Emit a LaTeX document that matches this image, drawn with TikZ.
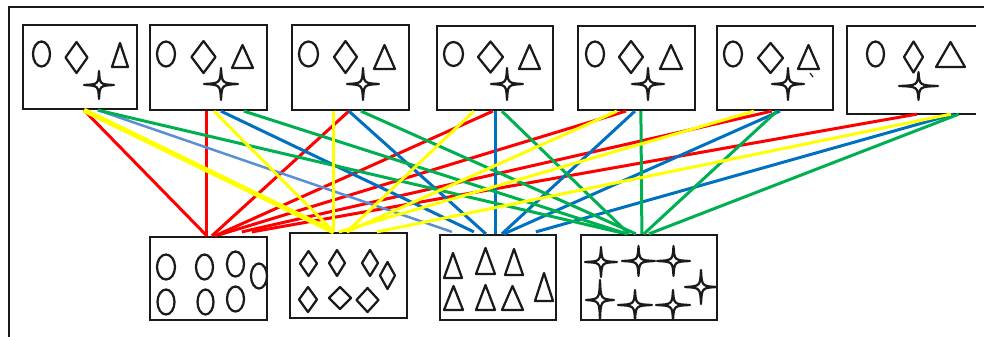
\documentclass[tikz,border=0pt]{standalone}
\usepackage{tikz}
\usetikzlibrary{calc}
\definecolor{ink}{HTML}{1A1A1A}
\definecolor{linkred}{HTML}{FF0000}
\definecolor{linkyellow}{HTML}{FFFF00}
\definecolor{linkblue}{HTML}{0070C0}
\definecolor{linkpale}{HTML}{5B8FD3}
\definecolor{linkgreen}{HTML}{00B050}
\tikzset{
  frame/.style={draw=ink,line width=0.04cm},
  card/.style={draw=ink,line width=0.045cm,inner sep=0pt,minimum height=1.7cm},
  cardline/.style={draw=ink,line width=0.045cm},
  figline/.style={draw=ink,line width=0.045cm,fill=white,line join=round},
  link/.style={line width=0.06cm},
  redlink/.style={link,draw=linkred},
  yellowlink/.style={link,draw=linkyellow},
  bluelink/.style={link,draw=linkblue},
  greenlink/.style={link,draw=linkgreen},
  fatyellow/.style={line width=0.1cm,draw=linkyellow},
  paleblue/.style={line width=0.05cm,draw=linkpale},
  pics/oval/.style 2 args={code={\draw[figline] (0,0) ellipse [x radius=#1,y radius=#2];}},
  pics/gem/.style 2 args={code={\draw[figline] (0,-#2) -- (#1,0) -- (0,#2) -- (-#1,0) -- cycle;}},
  pics/tri/.style 2 args={code={\draw[figline] (-#1,#2) -- (#1,#2) -- (0,-#2) -- cycle;}},
  pics/sparkle/.style 2 args={code={\draw[figline] (0,-#2)
      .. controls ({0.05*#1},{-0.05*#2}) .. (#1,0) .. controls ({0.05*#1},{0.05*#2}) .. (0,#2)
      .. controls ({-0.05*#1},{0.05*#2}) .. (-#1,0) .. controls ({-0.05*#1},{-0.05*#2}) .. (0,-#2) -- cycle;}}
}

\begin{document}
\begin{tikzpicture}[x=0.02cm,y=-0.02cm]
  \useasboundingbox (0,0) rectangle (984,336);
  \clip (0,0) rectangle (984,336);
  \draw[frame] (9,7) rectangle (1000,350);

  % top row: one card per mixture
  \node[card,minimum width=2.28cm,minimum height=1.68cm] (top1) at (80,67) {};
  \node[card,minimum width=2.34cm] (top2) at (208.5,67.5) {};
  \node[card,minimum width=2.34cm] (top3) at (350.5,67.5) {};
  \node[card,minimum width=2.32cm,minimum height=1.68cm] (top4) at (495,68) {};
  \node[card,minimum width=2.34cm,minimum height=1.68cm] (top5) at (636.5,68) {};
  \node[card,minimum width=2.32cm,minimum height=1.68cm] (top6) at (775,68) {};
  \node[card,draw=none,minimum width=2.54cm,minimum height=1.72cm] (top7) at (911.5,70) {};
  \draw[cardline] (top7.north east) -- (top7.north west) -- (top7.south west) -- (top7.south east);

  \pic at (41.5,54) {oval={8.5}{12.5}};  \pic at (76.5,57.5) {gem={11}{15.5}};
  \pic at (120,55) {tri={8}{12}};        \pic at (99,85) {sparkle={15}{14}};
  \pic at (166,54) {oval={9}{12.5}};     \pic at (203.5,57) {gem={12}{16}};
  \pic at (242.5,56.5) {tri={10.5}{11.5}}; \pic at (221,84) {sparkle={17}{16}};
  \pic at (308.5,54) {oval={9.5}{12.5}}; \pic at (345.5,57) {gem={11.5}{16}};
  \pic at (384.5,57) {tri={10.5}{12}};   \pic at (363,84) {sparkle={16}{16}};
  \pic at (453.5,54) {oval={9.5}{12}};   \pic at (490.5,57) {gem={12.5}{15.5}};
  \pic at (529.5,57) {tri={10.5}{12}};   \pic at (507,84) {sparkle={16}{16}};
  \pic at (595,54) {oval={9}{12.5}};     \pic at (631,57) {gem={12}{16}};
  \pic at (671,57) {tri={11}{12}};       \pic at (648,84) {sparkle={16}{16}};
  \pic at (733,54) {oval={9}{12.5}};     \pic at (770.5,58) {gem={12.5}{15}};
  \pic at (808.5,57) {tri={10.5}{12}};   \pic at (788,84) {sparkle={16}{16}};
  \draw[ink,line width=0.025cm] (810,73) -- (813,77);
  \pic at (875.5,54) {oval={8.5}{12.5}}; \pic at (913.5,57) {gem={9.5}{15.5}};
  \pic at (950.5,54.5) {tri={14.5}{12.5}}; \pic at (918.5,86) {sparkle={19.5}{14}};

  % bottom row: sorted shapes
  \node[card,minimum width=2.34cm,minimum height=1.66cm] (bot1) at (208.5,278.5) {};
  \node[card,minimum width=2.34cm] (bot2) at (348.5,275.5) {};
  \node[card,minimum width=2.32cm] (bot3) at (498,277.5) {};
  \node[card,minimum width=2.72cm] (bot4) at (649,277.5) {};

  \foreach \p/\rx/\ry in {166/267/9, 204.5/267/8.5, 235.5/264/8.5, 259/276/8, 166/302/8.5, 205.5/302/8, 235.5/299/8.5}
    \pic at (\p,\rx) {oval={\ry}{12.5}};
  \foreach \p/\q/\w/\h in {308.5/263.5/8.5/12.5, 337/263/8/13, 370/263/8/13, 387.5/275.5/7.5/13.5, 308/299.5/9/12.5, 340/298/11/11, 367.5/300/11/12}
    \pic at (\p,\q) {gem={\w}{\h}};
  \foreach \p/\q/\w/\h in {453/265.5/9/12.5, 485.5/261/9.5/13, 514/262/9/13, 544/287/9/14, 453.5/298/9.5/12, 485.5/297.5/9.5/12.5, 512.5/298/10.5/12}
    \pic at (\p,\q) {tri={\w}{\h}};
  \foreach \p/\q/\w/\h in {601/262/16/15, 638.5/261/16.5/15, 673.5/261/16.5/15, 701/287/16/17, 600/300/14/20, 635/305/17/15, 673/305/17/15}
    \pic at (\p,\q) {sparkle={\w}{\h}};

  % links: each mixture to each sorted box
  \foreach \src/\sx/\dst/\dx/\dy/\col in {
    top1/62/bot1/58/0/redlink, top2/58/bot1/58/0/redlink, top3/58/bot1/63/0/redlink,
    top4/57/bot1/66/0/redlink, top5/49/bot1/70/-1/redlink, top6/56/bot1/93/-4/redlink,
    top7/70/bot1/103/-4/redlink,
    top1/76/bot3/13/-2/paleblue, top2/72/bot3/35/-2/bluelink, top3/58/bot3/47/0/bluelink,
    top4/60/bot3/57/0/bluelink, top5/58/bot3/63/0/bluelink, top6/64/bot3/65/0/bluelink,
    top7/107/bot3/97/-2/bluelink,
    top1/76/bot4/42/-1/greenlink, top2/95/bot4/47/0/greenlink, top3/70/bot4/56/0/greenlink,
    top4/66/bot4/49/0/greenlink, top5/64/bot4/62/0/greenlink, top6/61/bot4/64/0/greenlink,
    top7/112/bot4/69/0/greenlink,
    top1/62/bot2/45/0/fatyellow, top2/65/bot2/45/0/yellowlink, top3/43/bot2/45/0/yellowlink,
    top4/38/bot2/58/0/yellowlink, top5/40/bot2/58/0/yellowlink, top6/38/bot2/50/0/yellowlink,
    top7/104/bot2/88/0/yellowlink}
    \draw[\col] ($(\src.south west)+(\sx,0)$) -- ($(\dst.north west)+(\dx,\dy)$);
\end{tikzpicture}
\end{document}
